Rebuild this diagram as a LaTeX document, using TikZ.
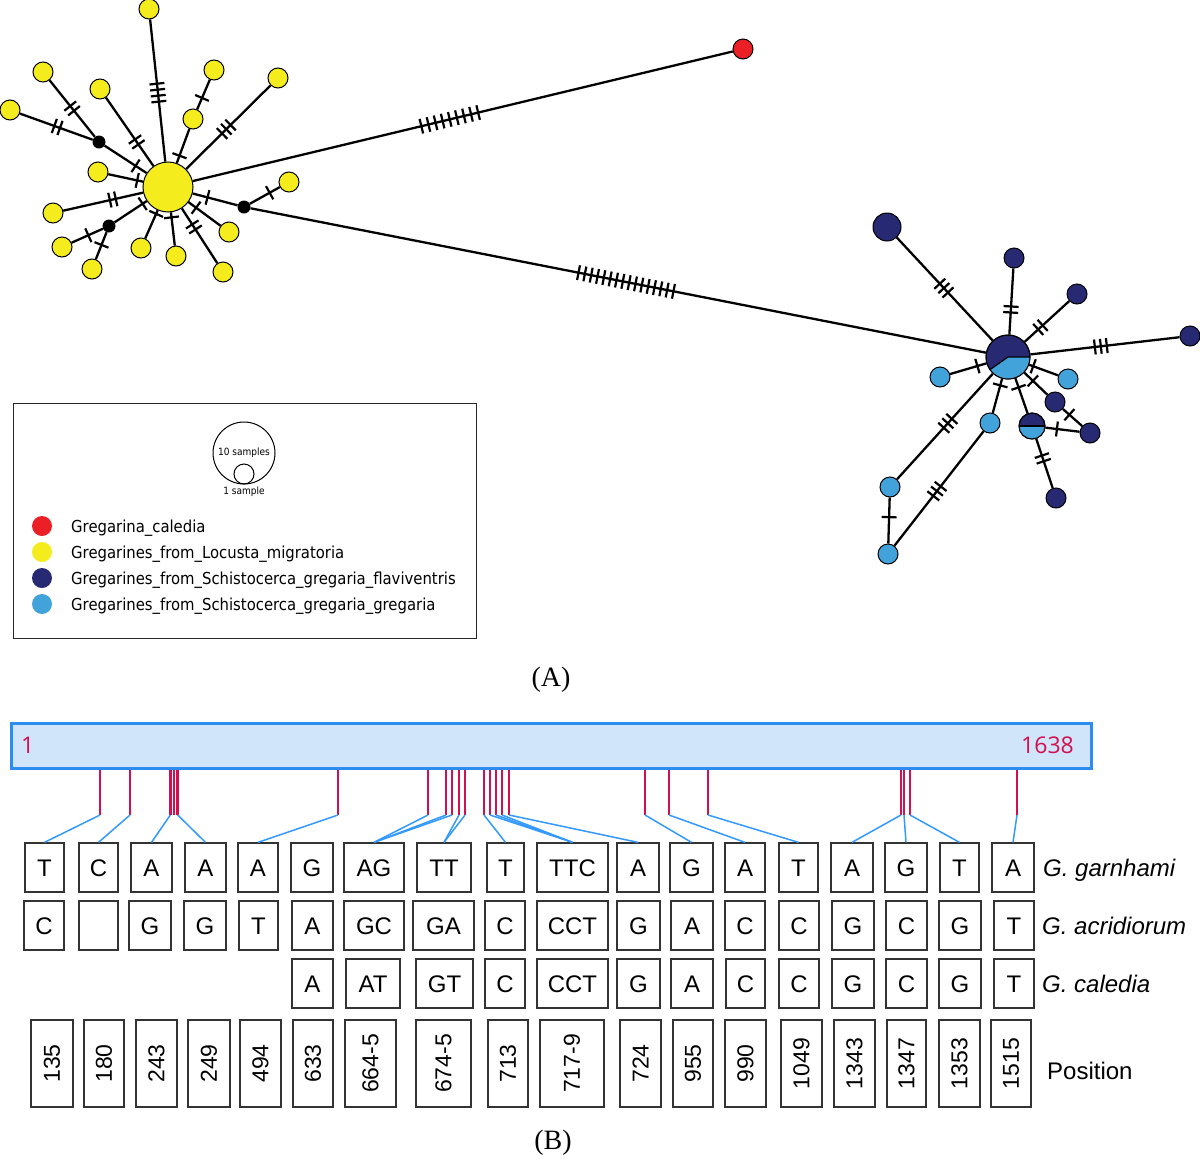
\documentclass[tikz,border=0pt]{standalone}
\usepackage{fontspec}
\usepackage{graphicx}
\setmainfont{Liberation Sans}
\newfontfamily\legfont[FakeStretch=0.9]{DejaVu Sans}
\newfontfamily\serfont{Liberation Serif}
\newfontfamily\barfont{Open Sans}
\definecolor{yel}{RGB}{244,236,28}
\definecolor{navy}{RGB}{39,42,115}
\definecolor{lblue}{RGB}{66,163,218}
\definecolor{redn}{RGB}{235,32,39}
\definecolor{barfill}{RGB}{208,228,250}
\definecolor{barline}{RGB}{45,140,240}
\definecolor{crim}{RGB}{210,16,80}
\definecolor{conncol}{RGB}{51,153,255}
\tikzset{
  edge/.style={line width=2.3pt},
  tick sp/.store in=\tksp, tick sp=6,
  ticks/.pic={\foreach \i in {1,...,#1}{\draw[line width=2.2pt] ({(\i-(#1+1)/2)*\tksp},-7.5) -- ({(\i-(#1+1)/2)*\tksp},7.5);}},
  hap/.style={circle, draw=black, line width=1pt, inner sep=0pt, minimum size=20pt},
  yn/.style={hap, fill=yel},
  yb/.style={hap, fill=yel, minimum size=50pt},
  kn/.style={circle, fill=black, inner sep=0pt, minimum size=13pt},
  dn/.style={hap, fill=navy},
  ln/.style={hap, fill=lblue},
  rn/.style={hap, fill=redn},
  legdot/.style={circle, inner sep=0pt, minimum size=20pt},
  legtxt/.style={anchor=base west, inner sep=0pt, font=\legfont\fontsize{16.5}{20}\selectfont},
  legsmall/.style={inner sep=0pt, font=\legfont\fontsize{10}{12}\selectfont},
  redtick/.style={draw=crim, line width=2.6pt},
  conn/.style={draw=conncol, line width=1.5pt},
  seqbox/.style={draw=black!80, line width=1.3pt, fill=white, inner sep=0pt, minimum height=49pt, text height=17pt, text depth=0pt, font=\fontsize{24}{28}\selectfont},
  posbox/.style={draw=black!80, line width=1.3pt, fill=white, inner sep=0pt, minimum height=87pt, font=\fontsize{23}{28}\selectfont},
  rowlab/.style={anchor=base west, inner sep=0pt, font=\fontsize{24}{28}\selectfont\itshape},
  panel/.style={inner sep=0pt, font=\serfont\fontsize{28}{32}\selectfont}
}
\begin{document}
\begin{tikzpicture}[x=1pt,y=1pt]
\useasboundingbox (0,0) rectangle (1200,-1165);

% ---------- yellow cluster ----------
\node[yb] (Y0) at (168,-187) {};
\node[yn] (y1) at (149,-9) {};
\node[yn] (y2) at (43,-72) {};
\node[yn] (y3) at (10,-110) {};
\node[kn] (k1) at (99,-142) {};
\node[yn] (y4) at (100,-89) {};
\node[yn] (y5) at (214,-70) {};
\node[yn] (y6) at (193,-119) {};
\node[yn] (y7) at (278,-78) {};
\node[yn] (y8) at (98,-172) {};
\node[yn] (y9) at (53,-213) {};
\node[kn] (k2) at (109,-226) {};
\node[yn] (y10) at (62,-247) {};
\node[yn] (y11) at (92,-269) {};
\node[yn] (y12) at (141,-248) {};
\node[yn] (y13) at (176,-256) {};
\node[yn] (y14) at (223,-272) {};
\node[yn] (y15) at (229,-232) {};
\node[kn] (k3) at (244,-207) {};
\node[yn] (y16) at (289,-182) {};
\node[rn] (R) at (743,-49) {};

% ---------- right cluster ----------
\node[hap, fill=navy, minimum size=44pt] (B0) at (1008,-357) {};
\fill[lblue] (B0.center) -- ++(-145:22pt) arc[start angle=-145, end angle=0, radius=22pt] -- cycle;
\draw[line width=1.2pt] (B0.center) -- ++(-145:22pt) (B0.center) -- ++(0:22pt);
\draw[line width=1pt] (B0.center) circle[radius=22pt];
\node[hap, fill=navy, minimum size=28pt] (d1) at (887,-227) {};
\node[dn] (d2) at (1014,-258) {};
\node[dn] (d3) at (1077,-294) {};
\node[dn] (d4) at (1190,-336) {};
\node[ln] (l1) at (940,-377) {};
\node[ln] (l2) at (1068,-379) {};
\node[dn] (d5) at (1055,-402) {};
\node[dn] (d6) at (1090,-433) {};
\node[hap, fill=navy, minimum size=26pt] (H) at (1032,-426) {};
\fill[lblue] (H.center) -- ++(180:13pt) arc[start angle=180, end angle=360, radius=13pt] -- cycle;
\draw[line width=1.2pt] (H.center) -- ++(180:13pt) (H.center) -- ++(0:13pt);
\draw[line width=1pt] (H.center) circle[radius=13pt];
\node[dn] (d7) at (1056,-498) {};
\node[ln] (l3) at (990,-423) {};
\node[ln] (l4) at (890,-487) {};
\node[ln] (l5) at (888,-554) {};

% ---------- edges ----------
\foreach \a/\b in {y1/Y0,y2/k1,y3/k1,k1/Y0,y4/Y0,y5/y6,y6/Y0,y7/Y0,y8/Y0,y9/Y0,k2/Y0,y10/k2,y11/k2,y12/Y0,y13/Y0,y14/Y0,y15/Y0,k3/Y0,y16/k3,Y0/R,k3/B0,
  d1/B0,d2/B0,d3/B0,d4/B0,l1/B0,l2/B0,d5/B0,d5/d6,H/B0,H/d6,H/d7,l3/B0,l4/B0,l5/l4,l5/l3}
  \draw[edge] (\a) -- (\b);

% ---------- mutation ticks ----------
\foreach \a/\b/\p/\nn in {y1/Y0/0.47/4,y2/k1/0.52/2,y3/k1/0.53/2,k1/Y0/0.53/1,y4/Y0/0.54/2,y5/y6/0.57/1,y6/Y0/0.54/1,y7/Y0/0.47/3,y8/Y0/0.56/1,y9/Y0/0.52/2,k2/Y0/0.57/1,y10/k2/0.56/1,y11/k2/0.56/1,y12/Y0/0.56/1,y13/Y0/0.56/1,y14/Y0/0.53/2,y15/Y0/0.54/1,k3/Y0/0.48/1,y16/k3/0.43/1,
  d1/B0/0.47/3,d2/B0/0.52/2,d3/B0/0.53/2,d4/B0/0.49/3,l1/B0/0.55/1,l2/B0/0.58/1,d5/B0/0.47/1,d5/d6/0.41/1,H/B0/0.56/1,H/d6/0.43/1,H/d7/0.45/2,l3/B0/0.57/1,l4/B0/0.49/3,l5/l4/0.55/1,l5/l3/0.48/3}
  \path (\a.center) -- (\b.center) pic[pos=\p, sloped]{ticks=\nn};
\path (Y0.center) -- (R.center) pic[pos=0.49, sloped, tick sp=7.3]{ticks=9};
\path (k3.center) -- (B0.center) pic[pos=0.50, sloped, tick sp=6.45]{ticks=16};

% ---------- legend ----------
\node[draw=black!85, line width=1.2pt, minimum width=463pt, minimum height=235pt, anchor=north west, inner sep=0pt] (leg) at (12.5,-402.5) {};
\node[circle, draw=black, line width=1pt, minimum size=62pt, inner sep=0pt] (s10) at (244,-453) {};
\node[circle, draw=black, line width=1pt, minimum size=20pt, inner sep=0pt] (s1) at (244,-474) {};
\node[legsmall] (t10) at (244,-453) {10 samples};
\node[legsmall] (t1) at (244,-492) {1 sample};
\node[legdot, fill=redn] (c1) at (42,-526) {};
\node[legdot, fill=yel] (c2) at (42,-552) {};
\node[legdot, fill=navy] (c3) at (42,-578) {};
\node[legdot, fill=lblue] (c4) at (42,-604) {};
\node[legtxt] (lt1) at (71,-532) {Gregarina\_caledia};
\node[legtxt] (lt2) at (71,-558) {Gregarines\_from\_Locusta\_migratoria};
\node[legtxt] (lt3) at (71,-584) {Gregarines\_from\_Schistocerca\_gregaria\_flaviventris};
\node[legtxt] (lt4) at (71,-610) {Gregarines\_from\_Schistocerca\_gregaria\_gregaria};

\node[panel] (pA) at (551,-680) {(A)};

% ---------- part B ----------
\node[draw=barline, fill=barfill, line width=3pt, minimum width=1080pt, minimum height=45pt, inner sep=0pt] (bar) at (551.5,-746) {};
\node[anchor=west, inner sep=0pt, text=crim, font=\barfont\fontsize{23}{26}\selectfont] (n1) at (21,-745) {1};
\node[anchor=east, inner sep=0pt, text=crim, font=\barfont\fontsize{23}{26}\selectfont] (n1638) at (1074,-745) {1638};

\foreach \x [count=\i] in {100,130,170.3,174,177.7,338,428,446,452,459,465,484,490,496,502,509,645,669,708,901,904,910,1017}{
  \coordinate (rt\i) at (\x,-770);
  \coordinate (rb\i) at (\x,-815);
  \draw[redtick] (rt\i) -- (rb\i);
}

\foreach \l/\r/\t [count=\i] in {25/64/T,79/118/C,131/172/A,185/226/A,238/278/A,291/333/G,344/404/AG,417/471/TT,487/524/T,537/608/TTC,617/659/A,670/713/G,725/765/A,779/818/T,831/873/A,885/927/G,940/979/T,992/1034/A}{
  \pgfmathsetmacro\w{\r-\l}\pgfmathsetmacro\cx{(\l+\r)/2}
  \node[seqbox, minimum width=\w pt] (g\i) at (\cx,-867.5) {\t};
}
\foreach \l/\r/\t [count=\i] in {24/64/C,79/118/{},129/171/G,184/226/G,239/278/T,292/333/A,344/404/GC,413/474/GA,485/525/C,537/608/CCT,617/660/G,671/713/A,725/765/C,779/819/C,832/874/G,886/927/C,939/981/G,994/1034/T}{
  \pgfmathsetmacro\w{\r-\l}\pgfmathsetmacro\cx{(\l+\r)/2}
  \node[seqbox, minimum width=\w pt] (a\i) at (\cx,-925.5) {\t};
}
\foreach \l/\r/\t [count=\i] in {292/333/A,346/400/AT,416/473/GT,485/525/C,537/608/CCT,617/660/G,671/713/A,726/765/C,779/819/C,832/874/G,886/927/C,939/981/G,994/1034/T}{
  \pgfmathsetmacro\w{\r-\l}\pgfmathsetmacro\cx{(\l+\r)/2}
  \node[seqbox, minimum width=\w pt] (c\i) at (\cx,-983.5) {\t};
}
\foreach \l/\r/\t [count=\i] in {31/73/135,84/124/180,136/177/243,188/230/249,240/281/494,293/333/633,345/396/664-5,416/471/674-5,488/528/713,540/604/717-9,620/661/724,673/713/955,725/766/990,781/822/1049,834/875/1343,887/926/1347,939/980/1353,991/1031/1515}{
  \pgfmathsetmacro\w{\r-\l}\pgfmathsetmacro\cx{(\l+\r)/2}
  \node[posbox, minimum width=\w pt] (p\i) at (\cx,-1063.5) {\rotatebox{90}{\t}};
}

\foreach \i/\j in {1/1,2/2,3/3,5/4,6/5,7/7,8/7,9/7,10/8,11/8,12/9,13/10,14/10,15/10,16/11,17/12,18/13,19/14,20/15,21/16,22/17,23/18}
  \draw[conn] (rb\i) -- (g\j.north);

\node[rowlab] (lg1) at (1043,-876) {G. garnhami};
\node[rowlab] (lg2) at (1042,-934) {G. acridiorum};
\node[rowlab] (lg3) at (1042,-992) {G. caledia};
\node[anchor=base west, inner sep=0pt, font=\fontsize{24}{28}\selectfont] (lpos) at (1047,-1079) {Position};

\node[panel] (pB) at (553,-1143) {(B)};
\end{tikzpicture}
\end{document}
